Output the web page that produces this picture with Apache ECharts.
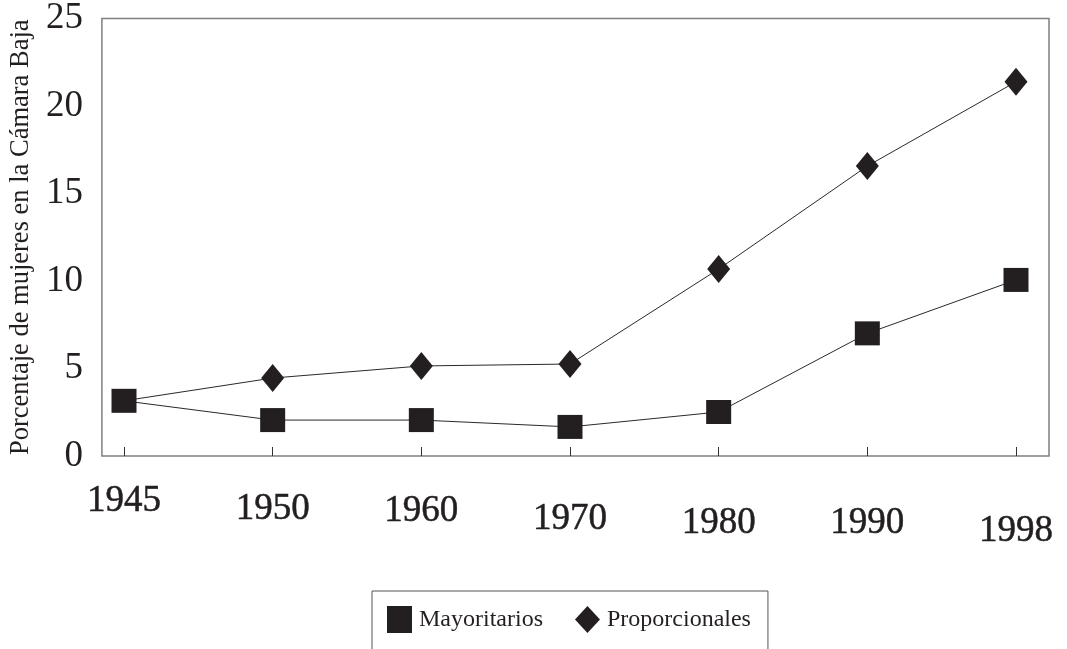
<!DOCTYPE html>
<html><head><meta charset="utf-8">
<script src="https://cdn.jsdelivr.net/npm/echarts@6/dist/echarts.min.js"></script>
<style>html,body{margin:0;padding:0;background:#fff}#c{width:1067px;height:649px}</style>
</head><body><div id="c"></div>
<script>
var years = ['1945','1950','1960','1970','1980','1990','1998'];
var mayoritarios = [3.15, 2.05, 2.05, 1.66, 2.51, 7.0, 10.05];
var proporcionales = [3.15, 4.45, 5.14, 5.25, 10.67, 16.55, 21.36];
var yTicks = [0, 5, 10, 15, 20, 25];

var ink = '#231f20';
var serif = '"Liberation Serif", "DejaVu Serif", serif';
var labelDrop = [0, 8, 10, 18, 22, 22, 30];
var rich = {};
labelDrop.forEach(function (d, i) { rich['r' + i] = { padding: [d, 0, 0, 0], fontSize: 37, fontWeight: 500, fontFamily: serif, color: ink, textStrokeWidth: 0.6, textBorderColor: ink, textBorderWidth: 0.5 }; });

// the first Proporcionales point coincides with the Mayoritarios square, no diamond is shown there
var propData = proporcionales.map(function (v, i) { return i === 0 ? { value: v, symbol: 'none' } : v; });

var chart = echarts.init(document.getElementById('c'));
chart.setOption({
  animation: false,
  backgroundColor: '#fff',
  grid: [
    { left: 100, right: 18, top: 18, bottom: 193, show: true, borderColor: '#7f7f7f', borderWidth: 1.5, backgroundColor: 'transparent' },
    { left: 124, right: 51, top: 18, bottom: 193 }
  ],
  xAxis: [
    { gridIndex: 0, type: 'value', min: 0, max: 1, show: false },
    {
      gridIndex: 1, type: 'category', data: years, boundaryGap: false,
      axisLine: { show: false },
      axisTick: { show: true, inside: true, length: 9, lineStyle: { color: '#333', width: 1 } },
      axisLabel: {
        margin: 27, interval: 0,
        formatter: function (v, i) { return '{r' + i + '|' + v + '}'; },
        rich: rich
      },
      splitLine: { show: false }
    }
  ],
  yAxis: [
    {
      gridIndex: 0, type: 'value', min: yTicks[0], max: yTicks[yTicks.length - 1], interval: 5,
      name: 'Porcentaje de mujeres en la Cámara Baja', nameLocation: 'middle', nameGap: 64,
      nameTextStyle: { fontSize: 26.5, fontFamily: serif, color: ink },
      axisLine: { show: false }, axisTick: { show: false }, splitLine: { show: false },
      axisLabel: { fontSize: 37, fontFamily: serif, color: ink, margin: 19 }
    },
    { gridIndex: 1, type: 'value', min: yTicks[0], max: yTicks[yTicks.length - 1], show: false }
  ],
  legend: {
    left: 372, top: 591, orient: 'horizontal',
    borderColor: '#555', borderWidth: 1,
    padding: [15, 17, 40, 15],
    itemWidth: 25, itemHeight: 27, itemGap: 32,
    textStyle: { fontSize: 24, fontFamily: serif, color: ink, padding: [8, 0, 0, 2] },
    data: [{ name: 'Mayoritarios', icon: 'rect' }, { name: 'Proporcionales', icon: 'diamond' }]
  },
  series: [
    {
      name: 'Proporcionales', type: 'line', xAxisIndex: 1, yAxisIndex: 1, data: propData,
      symbol: 'diamond', symbolSize: [23, 28], z: 2,
      itemStyle: { color: ink }, lineStyle: { color: '#2a2a2a', width: 1 }
    },
    {
      name: 'Mayoritarios', type: 'line', xAxisIndex: 1, yAxisIndex: 1, data: mayoritarios,
      symbol: 'rect', symbolSize: [25, 24], z: 3,
      itemStyle: { color: ink }, lineStyle: { color: '#2a2a2a', width: 1 }
    }
  ]
});
</script></body></html>
